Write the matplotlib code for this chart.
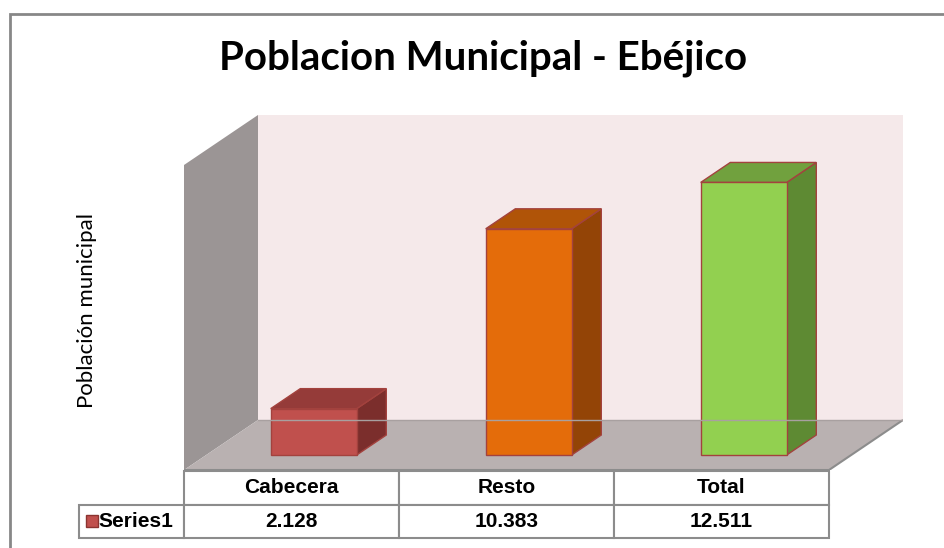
import matplotlib.pyplot as plt
from matplotlib.patches import Polygon, Rectangle

# data
categories = ['Cabecera', 'Resto', 'Total']
values = [2128, 10383, 12511]
series_name = 'Series1'
title = 'Poblacion Municipal - Ebéjico'
ylabel = 'Población municipal'

front_colors = ['#C0504D', '#E46C0A', '#92D050']
top_colors = ['#953B39', '#B05408', '#71A13E']
side_colors = ['#7B2E2C', '#934406', '#5E8A33']

W, H = 944, 548
YMAX = 14000


def fx(px):
    return px / W


def fy(py):
    return 1 - py / H


fig = plt.figure(figsize=(W / 100, H / 100), dpi=100)
fig.patch.set_facecolor('white')

# outer chart border (only left/top visible)
fig.patches.append(Rectangle((fx(10), -0.1), 1.2, fy(14) + 0.1, transform=fig.transFigure,
                             fill=False, edgecolor='#878787', lw=2))

# 3d-ish plot area: front plane x 184..829 px, y 470 (0) .. 165 (YMAX); depth shift 74px, -50px
cat_px = (829 - 184) / len(categories)
DX = 74 / cat_px
DY = 50 / 305 * YMAX
ax = fig.add_axes([fx(184), fy(470), (829 - 184 + 74) / W, (470 - 115) / H])
ax.set_xlim(-0.5, len(categories) - 0.5 + DX)
ax.set_ylim(0, YMAX + DY)
ax.axis('off')


def p(x, v, d):
    return (x + d * DX, v + d * DY)


x_lo, x_hi = -0.5, len(categories) - 0.5
# back wall
ax.add_patch(Polygon([p(x_lo, 0, 1), p(x_hi, 0, 1), p(x_hi, YMAX, 1), p(x_lo, YMAX, 1)],
                     closed=True, facecolor='#F5E9EA', edgecolor='none'))
# side wall
ax.add_patch(Polygon([p(x_lo, 0, 0), p(x_lo, 0, 1), p(x_lo, YMAX, 1), p(x_lo, YMAX, 0)],
                     closed=True, facecolor='#9B9595', edgecolor='none'))
# floor
ax.add_patch(Polygon([p(x_lo, 0, 0), p(x_hi, 0, 0), p(x_hi, 0, 1), p(x_lo, 0, 1)],
                     closed=True, facecolor='#B9B1B1', edgecolor='none'))
fl = [p(x_lo, 0, 0), p(x_hi, 0, 0), p(x_hi, 0, 1)]
ax.plot([a for a, b in fl], [b for a, b in fl], color='#8C8C8C', lw=1.5, solid_capstyle='butt')
ax.plot(*zip(p(x_lo, 0, 1), p(x_hi, 0, 1)), color='#A8A0A0', lw=1)

# bars (gap width 150% -> width 0.4, depth 0.3..0.7)
bw = 0.4
d0, d1 = 0.3, 0.7
edge = '#A3423E'
for i, v in enumerate(values):
    x0, x1 = i - bw / 2, i + bw / 2
    front = [p(x0, 0, d0), p(x1, 0, d0), p(x1, v, d0), p(x0, v, d0)]
    top = [p(x0, v, d0), p(x1, v, d0), p(x1, v, d1), p(x0, v, d1)]
    side = [p(x1, 0, d0), p(x1, 0, d1), p(x1, v, d1), p(x1, v, d0)]
    for poly, c in ((side, side_colors[i]), (top, top_colors[i]), (front, front_colors[i])):
        ax.add_patch(Polygon(poly, closed=True, facecolor=c, edgecolor=edge, lw=1, joinstyle='miter'))

# title and axis label
fig.text(fx(483), fy(58), title, ha='center', va='center', fontsize=29,
         fontweight='bold', family='Lato')
fig.text(fx(87), fy(311), ylabel, ha='center', va='center', rotation=90,
         fontsize=16, family='Lato')

# data table
tax = fig.add_axes([fx(79), fy(538), (829 - 79) / W, (538 - 471) / H])
tax.axis('off')
labels_fmt = [f'{v:,}'.replace(',', '.') for v in values]
cell_text = [[''] + categories, [''] + labels_fmt]
tbl = tax.table(cellText=cell_text, colWidths=[105, 215, 215, 215], cellLoc='center',
                bbox=[0, 0, 1, 1])
tbl.auto_set_font_size(False)
for (r, c), cell in tbl.get_celld().items():
    cell.set_edgecolor('#8C8C8C')
    cell.set_linewidth(1.5)
    cell.get_text().set_fontsize(15)
    cell.get_text().set_fontweight('bold')
    cell.get_text().set_family('Liberation Sans')
tbl[0, 0].set_visible(False)

# legend key + series name in the row label cell
tax.add_patch(Rectangle((7 / 750, 0.25 - 6 / 67), 12 / 750, 12 / 67, transform=tax.transAxes,
                        facecolor=front_colors[0], edgecolor='#8B3330', lw=1))
tax.text(19 / 750, 0.25, series_name, transform=tax.transAxes, ha='left', va='center',
         fontsize=15, fontweight='bold', family='Liberation Sans')

fig.savefig('out.png', dpi=100)
